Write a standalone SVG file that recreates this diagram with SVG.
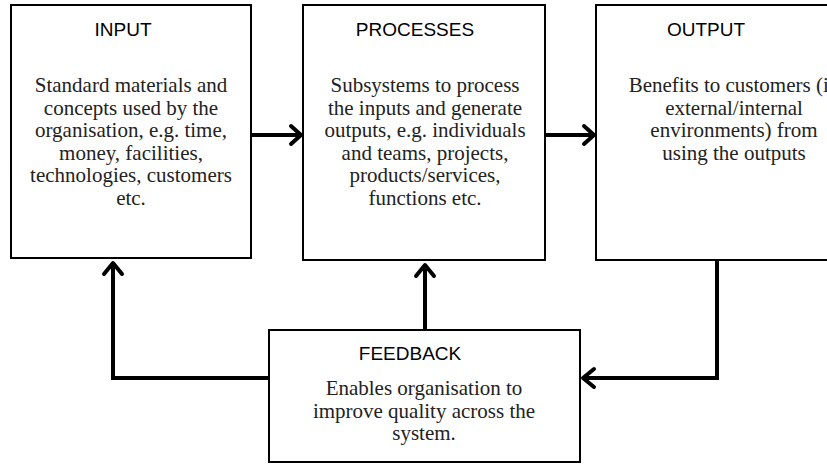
<svg xmlns="http://www.w3.org/2000/svg" width="827" height="464" viewBox="0 0 827 464">
<defs>
<style>
.box{fill:#fff;stroke:#000;stroke-width:2}
.title{font-family:"Liberation Sans",Arial,sans-serif;font-size:19px;fill:#000;text-anchor:middle}
.body{font-family:"Liberation Serif","Times New Roman",serif;font-size:21px;fill:#222;text-anchor:middle}
.conn{fill:none;stroke:#000;stroke-width:4;stroke-linejoin:miter}
.head{fill:none;stroke:#000;stroke-width:4;stroke-linecap:round;stroke-linejoin:round}
</style>
</defs>
<rect width="827" height="464" fill="#fff"/>
<g id="connectors">
<path class="conn" d="M251 135 H300"/>
<path class="head" d="M291 126 L301 135 L291 144"/>
<path class="conn" d="M545 135 H593"/>
<path class="head" d="M584 126 L594 135 L584 144"/>
<path class="conn" d="M269 378 H113 V263"/>
<path class="head" d="M104 274 L113 263 L122 274"/>
<path class="conn" d="M425 330 V265"/>
<path class="head" d="M416 276 L425 265 L434 276"/>
<path class="conn" d="M717 260 V378 H584"/>
<path class="head" d="M594 369 L583 378 L594 387"/>
</g>
<g id="input">
<rect class="box" x="11" y="5" width="240" height="253"/>
<text class="title" x="123" y="36">INPUT</text>
<text class="body" x="131" y="92">Standard materials and</text>
<text class="body" x="131" y="114.5">concepts used by the</text>
<text class="body" x="131" y="137">organisation, e.g. time,</text>
<text class="body" x="131" y="159.5">money, facilities,</text>
<text class="body" x="131" y="182">technologies, customers</text>
<text class="body" x="131" y="204.5">etc.</text>
</g>
<g id="processes">
<rect class="box" x="303" y="5" width="242" height="255"/>
<text class="title" x="415" y="36">PROCESSES</text>
<text class="body" x="425" y="92">Subsystems to process</text>
<text class="body" x="425" y="114.5">the inputs and generate</text>
<text class="body" x="425" y="137">outputs, e.g. individuals</text>
<text class="body" x="425" y="159.5">and teams, projects,</text>
<text class="body" x="425" y="182">products/services,</text>
<text class="body" x="425" y="204.5">functions etc.</text>
</g>
<g id="output">
<rect class="box" x="596" y="5" width="280" height="255"/>
<text class="title" x="706" y="36">OUTPUT</text>
<text class="body" x="734" y="92">Benefits to customers (in</text>
<text class="body" x="734" y="114.5">external/internal</text>
<text class="body" x="734" y="137">environments) from</text>
<text class="body" x="734" y="159.5">using the outputs</text>
</g>
<g id="feedback">
<rect class="box" x="269" y="330" width="311" height="132"/>
<text class="title" x="410" y="360">FEEDBACK</text>
<text class="body" x="424" y="395">Enables organisation to</text>
<text class="body" x="424" y="417.5">improve quality across the</text>
<text class="body" x="424" y="440">system.</text>
</g>
</svg>
